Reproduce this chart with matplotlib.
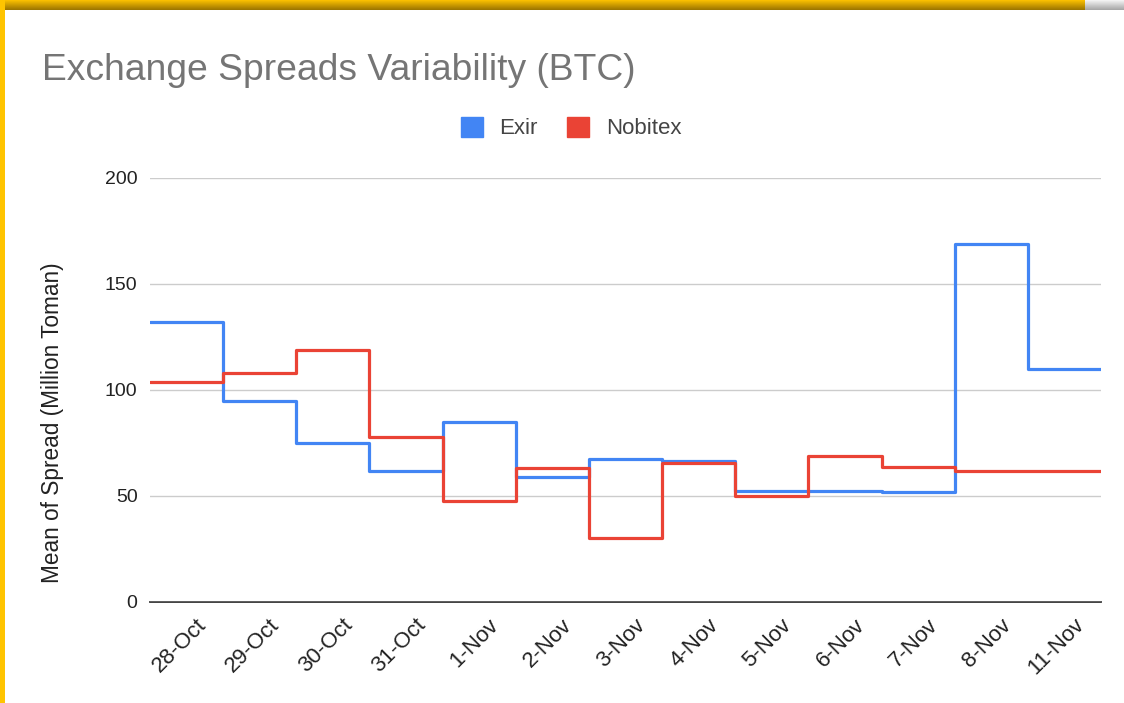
import numpy as np
import matplotlib
matplotlib.use("Agg")
import matplotlib.pyplot as plt
import matplotlib.transforms as mtransforms
from matplotlib.patches import Patch, Rectangle

plt.rcParams['font.family'] = ['Liberation Sans', 'DejaVu Sans']

# data
dates = ["28-Oct", "29-Oct", "30-Oct", "31-Oct", "1-Nov", "2-Nov", "3-Nov",
         "4-Nov", "5-Nov", "6-Nov", "7-Nov", "8-Nov", "11-Nov"]
exir = [132, 95, 75, 62, 85, 59, 67.5, 66.5, 52.5, 52.5, 51.8, 169, 110]
nobitex = [104, 108, 119, 78, 47.5, 63, 30, 65.5, 50, 69, 63.5, 62, 62]
y_ticks = [0, 50, 100, 150, 200]

BLUE = "#4285F4"
RED = "#EA4335"

W, H = 1124, 703
fig = plt.figure(figsize=(W / 100, H / 100), dpi=100)
fig.patch.set_facecolor("white")

ax = fig.add_axes([150 / W, 1 - 602 / H, (1101 - 150) / W, (602 - 178) / H])

# steps centered on each category (each date fills its own band)
edges = np.arange(len(dates) + 1) - 0.5
ax.stairs(exir, edges, baseline=None, color=BLUE, linewidth=2.3,
          label="Exir", joinstyle="round", capstyle="round")
ax.stairs(nobitex, edges, baseline=None, color=RED, linewidth=2.3,
          label="Nobitex", joinstyle="round", capstyle="round")

ax.set_xlim(-0.5, len(dates) - 0.5)
ax.set_ylim(0, 200)
ax.set_yticks(y_ticks)
ax.yaxis.grid(True, color="#cccccc", linewidth=1)
ax.set_axisbelow(True)
for s in ["top", "right", "left"]:
    ax.spines[s].set_visible(False)
ax.spines["bottom"].set_color("#333333")
ax.spines["bottom"].set_linewidth(1.3)
ax.spines["bottom"].set_zorder(0.5)

ax.tick_params(axis="y", length=0, pad=9, labelsize=14, labelcolor="#222222")
ax.tick_params(axis="x", length=0, pad=9, labelsize=16, labelcolor="#222222")
ax.set_xticks(range(len(dates)))
ax.set_xticklabels(dates, rotation=45, ha="right", va="top",
                   rotation_mode="anchor")
offset = mtransforms.ScaledTranslation(9 / 100, 0, fig.dpi_scale_trans)
for lbl in ax.get_xticklabels():
    lbl.set_transform(lbl.get_transform() + offset)

ax.set_ylabel("Mean of Spread (Million Toman)", fontsize=16.3, color="#222222")
ax.yaxis.set_label_coords(64 / W, 1 - 423 / H, transform=fig.transFigure)

fig.text(42 / W, 1 - 71 / H, "Exchange Spreads Variability (BTC)",
         fontsize=26.8, color="#757575", ha="left", va="center")

handles = [Patch(facecolor=BLUE, edgecolor=BLUE), Patch(facecolor=RED, edgecolor=RED)]
fig.legend(handles, ["Exir", "Nobitex"], loc="center",
           bbox_to_anchor=(571 / W, 1 - 128 / H), ncol=2, frameon=False,
           fontsize=16, handlelength=1.0, handleheight=1.0,
           handletextpad=0.75, columnspacing=1.3, labelcolor="#444444")

# frame decoration: yellow left strip and gradient top bar
fig.patches.append(Rectangle((0, 0), 5 / W, 1, transform=fig.transFigure,
                             facecolor="#FFC400", edgecolor="none", zorder=5))
bar = fig.add_axes([0, 1 - 10 / H, 1085 / W, 10 / H])
grad = np.linspace(0, 1, 10).reshape(-1, 1)
top_c = np.array([0xF9, 0xBE, 0x00]) / 255
bot_c = np.array([0x9E, 0x77, 0x00]) / 255
img = top_c[None, None, :] * (1 - grad[:, :, None]) + bot_c[None, None, :] * grad[:, :, None]
bar.imshow(img, aspect="auto", extent=[0, 1, 0, 1])
bar.axis("off")
gbar = fig.add_axes([1085 / W, 1 - 10 / H, 1 - 1085 / W, 10 / H])
top_g = np.array([0xF2, 0xF2, 0xF2]) / 255
bot_g = np.array([0xA8, 0xA8, 0xA8]) / 255
gimg = top_g[None, None, :] * (1 - grad[:, :, None]) + bot_g[None, None, :] * grad[:, :, None]
gbar.imshow(gimg, aspect="auto", extent=[0, 1, 0, 1])
gbar.axis("off")

fig.savefig("out.png", dpi=100)
